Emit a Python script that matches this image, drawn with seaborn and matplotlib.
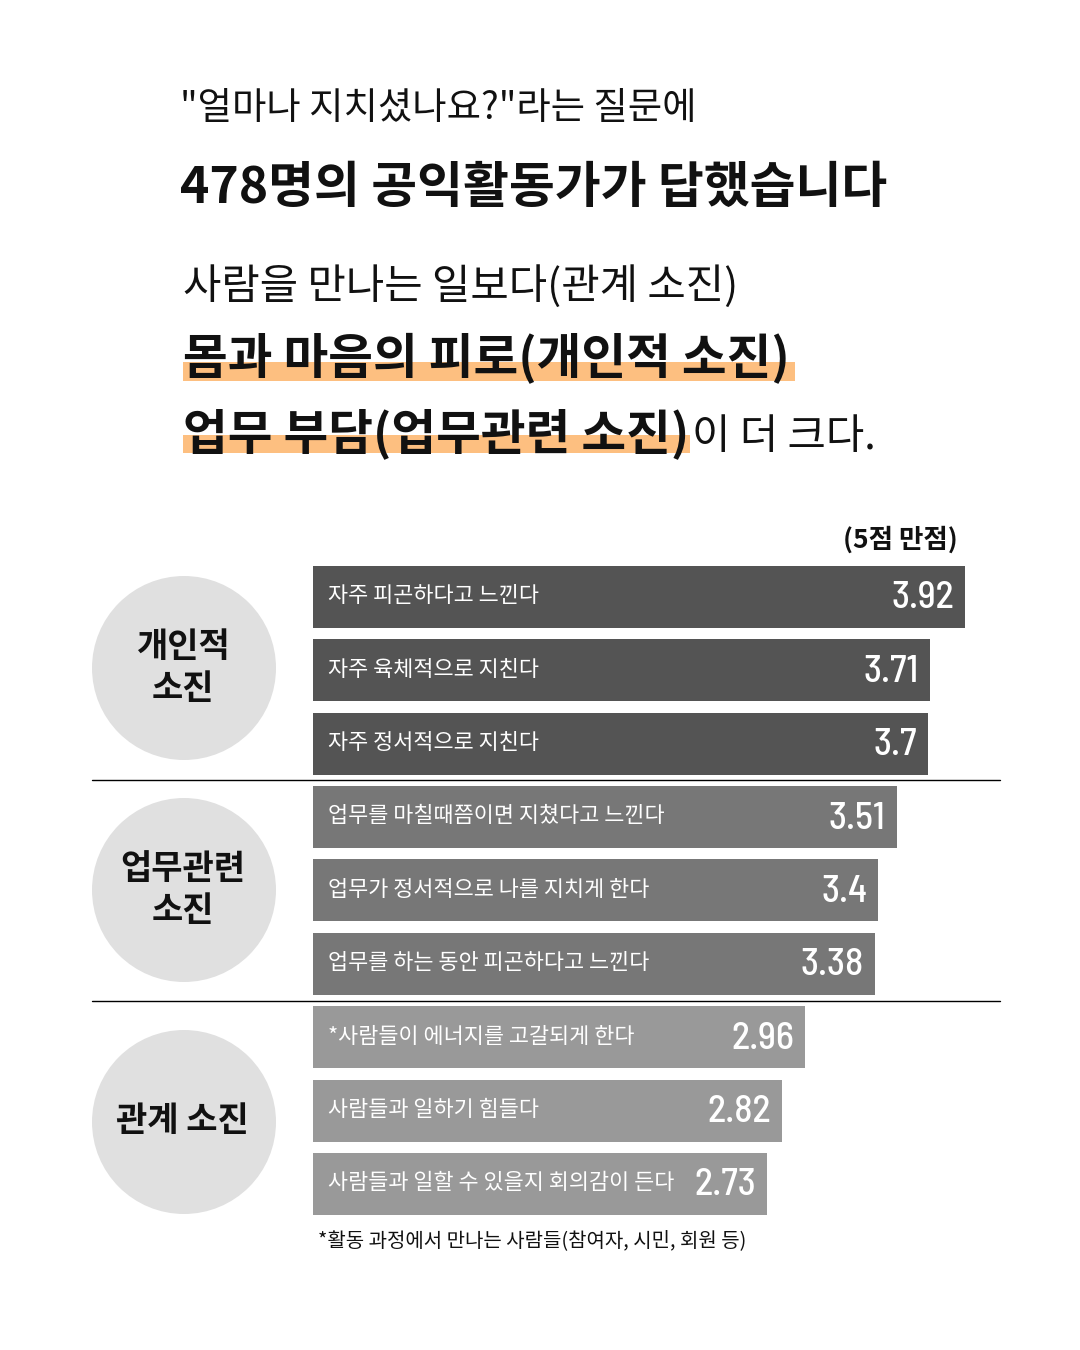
import matplotlib
matplotlib.use("Agg")
import matplotlib.pyplot as plt
import seaborn as sns
import pandas as pd
from matplotlib import font_manager, transforms
from matplotlib.patches import Circle, Rectangle

# ---------------- data ----------------
items = [
    "자주 피곤하다고 느낀다",
    "자주 육체적으로 지친다",
    "자주 정서적으로 지친다",
    "업무를 마칠때쯤이면 지쳤다고 느낀다",
    "업무가 정서적으로 나를 지치게 한다",
    "업무를 하는 동안 피곤하다고 느낀다",
    "*사람들이 에너지를 고갈되게 한다",
    "사람들과 일하기 힘들다",
    "사람들과 일할 수 있을지 회의감이 든다",
]
scores = [3.92, 3.71, 3.70, 3.51, 3.40, 3.38, 2.96, 2.82, 2.73]
groups = ["개인적 소진"] * 3 + ["업무관련 소진"] * 3 + ["관계 소진"] * 3
group_order = ["개인적 소진", "업무관련 소진", "관계 소진"]
circle_lines = [["개인적", "소진"], ["업무관련", "소진"], ["관계 소진"]]
group_colors = ["#545454", "#777777", "#999999"]

title_line1 = "\"얼마나 지치셨나요?\"라는 질문에"
title_line2 = "478명의 공익활동가가 답했습니다"
sub_line1 = "사람을 만나는 일보다(관계 소진)"
sub_line2 = "몸과 마음의 피로(개인적 소진)"
sub_line3a = "업무 부담(업무관련 소진)"
sub_line3b = "이 더 크다."
scale_note = "(5점 만점)"
footnote = "*활동 과정에서 만나는 사람들(참여자, 시민, 회원 등)"

df = pd.DataFrame({"item": items, "score": scores, "group": groups})

# ---------------- style ----------------
sns.set_theme(style="white")
KR = "Noto Sans CJK KR"
plt.rcParams["font.family"] = [KR, "DejaVu Sans"]
names = {f.name for f in font_manager.fontManager.ttflist}
NUM = KR
for cand in ["Barlow Semi Condensed", "Barlow Condensed", "Liberation Sans Narrow"]:
    if cand in names:
        NUM = cand
        break

W, H = 1080, 1350
fig = plt.figure(figsize=(W / 100, H / 100), dpi=100)
fig.patch.set_facecolor("white")

# overlay axes in pixel coordinates
ov = fig.add_axes([0, 0, 1, 1])
ov.set_xlim(0, W)
ov.set_ylim(H, 0)
ov.axis("off")
ov.set_facecolor("none")

# bar axes: x in score units (166.3 px per point), bars start at x=313 px
px_per_unit = 166.3
x0_px = 313
xmax = 4.2
ax_w = xmax * px_per_unit
pitch = 73.375
y0_center = 597
top_px, bot_px = 530, 1250
ax = fig.add_axes([x0_px / W, 1 - bot_px / H, ax_w / W, (bot_px - top_px) / H])
ax.set_facecolor("none")

sns.barplot(data=df, x="score", y="item", hue="group", hue_order=group_order,
            palette=group_colors, dodge=False, width=62 / pitch, saturation=1,
            orient="h", legend=False, ax=ax, linewidth=0)
ax.set_xlim(0, xmax)
ax.set_ylim(len(items) - 1 + (bot_px - (y0_center + pitch * (len(items) - 1))) / pitch,
            -(y0_center - top_px) / pitch)
ax.set_xlabel("")
ax.set_ylabel("")
ax.set_xticks([])
ax.set_yticks([])
for s in ax.spines.values():
    s.set_visible(False)

# separators between groups
for yb in [2.5, 5.5]:
    ax.plot([(92 - x0_px) / px_per_unit, (1000 - x0_px) / px_per_unit], [yb, yb],
            color="black", lw=1.0, clip_on=False, zorder=3)

fig.canvas.draw()
R = fig.canvas.get_renderer()


def fit(t, width):
    bb = t.get_window_extent(R)
    t.set_fontsize(t.get_fontsize() * width / bb.width)
    return t.get_fontsize()


# bar labels and values
lab_texts = []
for i, (it, sc) in enumerate(zip(items, scores)):
    t = ax.text((328 - x0_px) / px_per_unit, i - 0.01, it, color="white",
                fontsize=15, fontweight="medium", va="center", ha="left", zorder=4)
    lab_texts.append(t)
fs = fit(lab_texts[0], 210)
for t in lab_texts:
    t.set_fontsize(fs)

val_tr = transforms.offset_copy(ax.transData, fig=fig, x=-11, y=0, units="dots")
val_texts = []
for i, sc in enumerate(scores):
    t = ax.text(sc, i + 0.02, f"{sc:g}", color="white", fontsize=28, fontweight="medium",
                family=[NUM, KR], va="center", ha="right", transform=val_tr, zorder=4)
    val_texts.append(t)
fs = fit(val_texts[0], 63)
for t in val_texts:
    t.set_fontsize(fs)

# group circles
circle_centers = [668, 890, 1122]
for cy, lines in zip(circle_centers, circle_lines):
    ov.add_patch(Circle((184, cy), 92, facecolor="#e0e0e0", edgecolor="none"))
ref = ov.text(182, 1120, circle_lines[2][0], fontsize=22, fontweight="bold",
              ha="center", va="center", color="#111111")
cfs = fit(ref, 133)
for cy, lines in zip(circle_centers[:2], circle_lines[:2]):
    ov.text(183, cy - 22, lines[0], fontsize=cfs, fontweight="bold",
            ha="center", va="center", color="#111111")
    ov.text(183, cy + 21, lines[1], fontsize=cfs, fontweight="bold",
            ha="center", va="center", color="#111111")

# scale note and footnote
t = ov.text(958, 548, scale_note, fontsize=15, fontweight="bold", ha="right",
            va="baseline", color="#111111")
fit(t, 115)
t = ov.text(318, 1247, footnote, fontsize=13, fontweight="medium", ha="left",
            va="baseline", color="#111111")
fit(t, 429)

# header
t1 = ov.text(180, 119, title_line1, fontsize=25, ha="left", va="baseline", color="#111111")
fit(t1, 517)
t2 = ov.text(180, 203, title_line2, fontsize=36, fontweight="bold", ha="left",
             va="baseline", color="#111111")
fit(t2, 707)
t3 = ov.text(183, 299, sub_line1, fontsize=27, ha="left", va="baseline", color="#111111")
nfs = fit(t3, 555)
t4 = ov.text(183, 374, sub_line2, fontsize=30, fontweight="bold", ha="left",
             va="baseline", color="#111111", zorder=3)
bfs = fit(t4, 607)
t5 = ov.text(183, 449, sub_line3a, fontsize=bfs, fontweight="bold", ha="left",
             va="baseline", color="#111111", zorder=3)
fig.canvas.draw()
bb4 = t4.get_window_extent(R)
bb5 = t5.get_window_extent(R)
ov.add_patch(Rectangle((183, 362), bb4.x1 - 183 + 5, 19, facecolor="#fdbf80",
                       edgecolor="none", zorder=2))
ov.add_patch(Rectangle((183, 435), bb5.x1 - 183 + 1, 18, facecolor="#fdbf80",
                       edgecolor="none", zorder=2))
ov.text(bb5.x1 + 3, 449, sub_line3b, fontsize=nfs, ha="left", va="baseline",
        color="#111111", zorder=3)

fig.savefig("out.png", dpi=100, facecolor="white")
